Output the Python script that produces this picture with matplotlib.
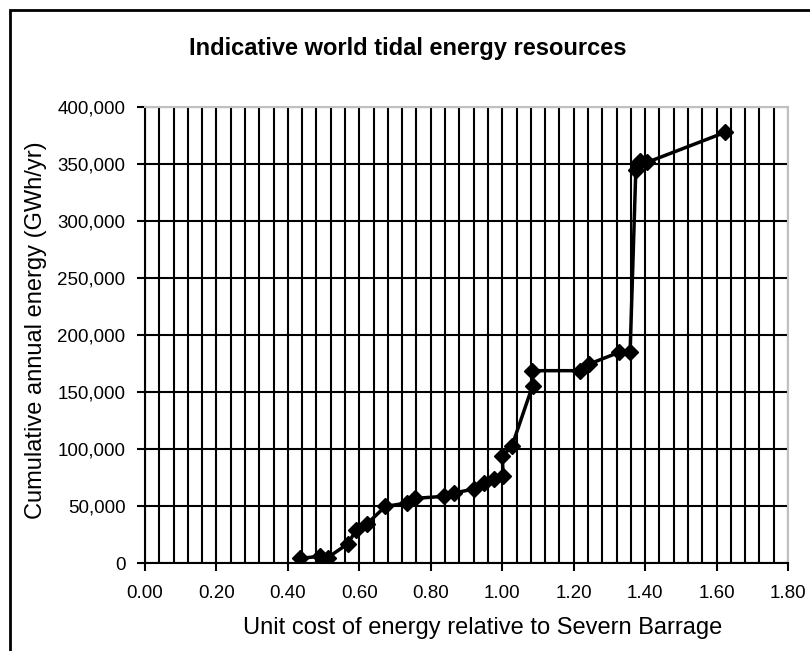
import numpy as np
import matplotlib.pyplot as plt
from matplotlib.ticker import MultipleLocator, FuncFormatter
from matplotlib.patches import Rectangle

plt.rcParams['font.family'] = ['Liberation Sans', 'DejaVu Sans']

# Unit cost relative to Severn Barrage, cumulative energy (GWh/yr)
cost = [0.433, 0.489, 0.511, 0.567, 0.592, 0.621, 0.673, 0.734, 0.757,
        0.837, 0.865, 0.921, 0.948, 0.977, 1.003, 1.000, 1.027, 1.085,
        1.083, 1.218, 1.243, 1.327, 1.358, 1.374, 1.380, 1.385, 1.406, 1.624]
energy = [4000, 5900, 4600, 16700, 29200, 34200, 49700, 52600, 56700,
          58500, 61400, 64900, 70000, 73500, 76000, 93600, 102400, 155500,
          168700, 168700, 174500, 184800, 184800, 345000, 350000, 352900,
          351500, 377800]

W, H = 810, 651
fig = plt.figure(figsize=(W / 100, H / 100), dpi=100)
ax = fig.add_axes([145/W, 1 - 563/H, (788-145)/W, (563-107)/H])

ax.plot(cost, energy, color='black', linewidth=2.5, marker='D',
        markersize=8, zorder=3)

ax.set_xlim(0, 1.8)
ax.set_ylim(0, 400000)
ax.xaxis.set_major_locator(MultipleLocator(0.2))
ax.xaxis.set_minor_locator(MultipleLocator(0.04))
ax.yaxis.set_major_locator(MultipleLocator(50000))
ax.xaxis.set_major_formatter(FuncFormatter(lambda v, p: f"{v:.2f}"))
ax.yaxis.set_major_formatter(FuncFormatter(lambda v, p: f"{v:,.0f}"))

ax.grid(True, which='major', axis='y', color='black', linewidth=1.5)
ax.grid(True, which='both', axis='x', color='black', linewidth=1.5)
ax.set_axisbelow(True)

ax.tick_params(axis='both', which='major', direction='out', length=6,
               width=1.5, labelsize=13.5, colors='black')
ax.tick_params(axis='x', which='minor', length=0)
ax.tick_params(axis='x', pad=10)
ax.tick_params(axis='y', pad=8)

for side in ['top', 'right']:
    ax.spines[side].set_color('#c0c0c0')
    ax.spines[side].set_linewidth(1.5)
for side in ['left', 'bottom']:
    ax.spines[side].set_color('black')
    ax.spines[side].set_linewidth(1.5)

fig.text(483/W, 1 - 628/H, "Unit cost of energy relative to Severn Barrage",
         ha='center', va='center', fontsize=17)
fig.text(36/W, 1 - 330/H, "Cumulative annual energy (GWh/yr)",
         ha='center', va='center', rotation=90, fontsize=17)

fig.text(408/W, 1 - 48/H, "Indicative world tidal energy resources",
         ha='center', va='center', fontsize=17, fontweight='bold')

# outer chart border
fig.patches.append(Rectangle((10/W, -0.05), 1.2, 1 - 10/H + 0.05,
                             transform=fig.transFigure, fill=False,
                             edgecolor='black', linewidth=2))

fig.savefig('out.png', dpi=100)
